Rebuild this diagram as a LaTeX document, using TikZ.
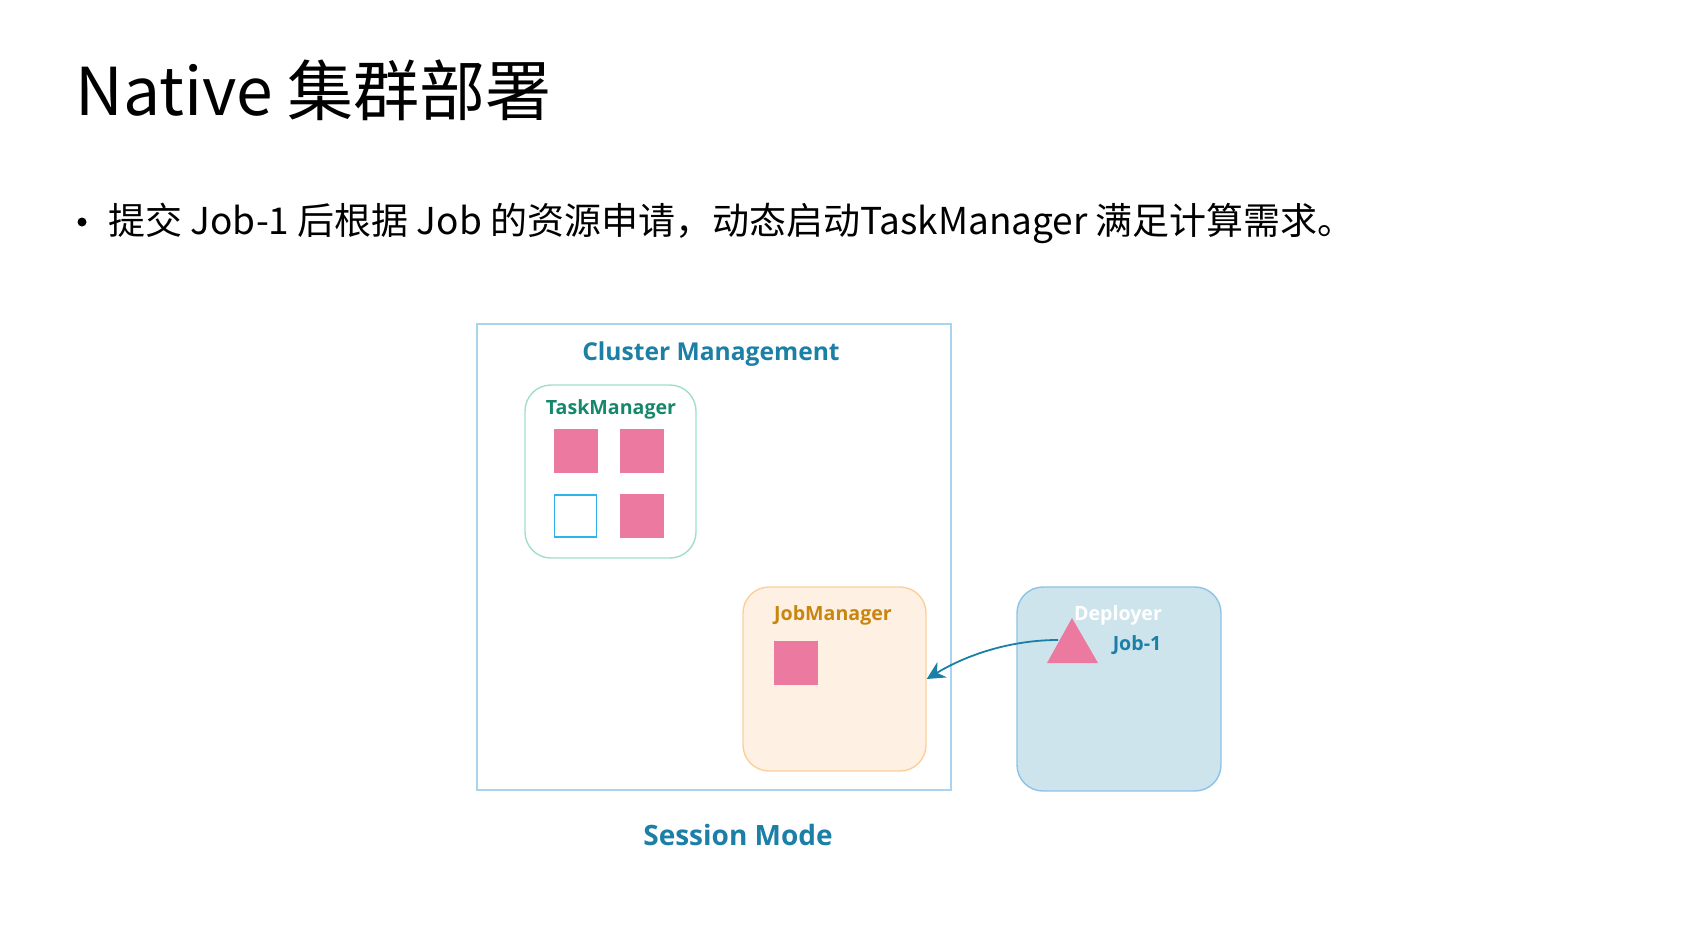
\documentclass[tikz,border=0pt]{standalone}
\usepackage{fontspec}
\usepackage{tikz}
\setmainfont{Noto Sans CJK SC}
\newfontfamily\labelfont{Open Sans}
\usetikzlibrary{arrows.meta}

\definecolor{clusterline}{HTML}{A9D4EE}
\definecolor{tealtext}{HTML}{1B7FA6}
\definecolor{tmline}{HTML}{9FDFC9}
\definecolor{tmtext}{HTML}{17876B}
\definecolor{slotpink}{HTML}{EC7AA0}
\definecolor{slotfree}{HTML}{2FB4E9}
\definecolor{jmfill}{HTML}{FFF0E4}
\definecolor{jmline}{HTML}{FCCF9A}
\definecolor{jmtext}{HTML}{C8860F}
\definecolor{depfill}{HTML}{CDE4EC}
\definecolor{depline}{HTML}{8CC3E6}

\tikzset{
  boxlabel/.style={font=\labelfont\bfseries\fontsize{9.8}{12}\selectfont, inner sep=0pt},
  slot/.style={fill=slotpink, minimum width=22pt, minimum height=22pt, inner sep=0pt},
  freeslot/.style={draw=slotfree, line width=0.7pt, fill=white, minimum width=21pt, minimum height=21pt, inner sep=0pt},
  roundbox/.style={rounded corners=13pt, line width=0.7pt, inner sep=0pt}
}

\begin{document}
\begin{tikzpicture}[x=0.5pt,y=0.5pt,yscale=-1,xscale=1]
        \useasboundingbox (0,0) rectangle (1692,932);

        % heading and bullet
        \node (title) at (75,115) [anchor=base west, inner sep=0pt, font=\fontsize{33}{38}\selectfont] {Native 集群部署};
        \node (dot) at (82,222) [circle, fill=black, inner sep=0pt, minimum size=4.5pt] {};
        \node (bullet) at (108,234) [anchor=base west, inner sep=0pt, font=\fontsize{18.5}{21}\selectfont] {提交 Job-1 后根据 Job 的资源申请，动态启动TaskManager 满足计算需求。};

        % cluster
        \node (cluster) at (714,557) [draw=clusterline, line width=0.7pt, minimum width=237pt, minimum height=233pt, inner sep=0pt] {};
        \node (clustertitle) at (711,354) [boxlabel, font=\labelfont\bfseries\fontsize{12.3}{15}\selectfont, text=tealtext] {Cluster Management};

        % task manager
        \node (tm) at (610.5,471.5) [roundbox, draw=tmline, minimum width=85.5pt, minimum height=86.5pt] {};
        \node (tmtitle) at (611,409) [boxlabel, text=tmtext] {TaskManager};
        \node (s1) at (575.5,451) [slot] {};
        \node (s2) at (641.5,451) [slot] {};
        \node (s3) at (575.5,516) [freeslot] {};
        \node (s4) at (641.5,516) [slot] {};

        % job manager
        \node (jm) at (834.5,679) [roundbox, draw=jmline, fill=jmfill, minimum width=91.5pt, minimum height=92pt] {};
        \node (jmtitle) at (833,615) [boxlabel, text=jmtext] {JobManager};
        \node (js) at (796,663) [slot] {};

        % deployer
        \node (dep) at (1119,689) [roundbox, draw=depline, fill=depfill, minimum width=102pt, minimum height=102pt] {};
        \node (deptitle) at (1118,615) [boxlabel, text=white] {Deployer};
        \fill [slotpink] (1047,663) -- (1072,618) -- (1098,663) -- cycle;
        \coordinate (job) at (1058,640);
        \node (jobname) at (1137,645) [boxlabel, text=tealtext] {Job-1};

        \draw [tealtext, line width=0.9pt, -{Stealth[length=9pt,width=9pt,inset=3pt]}] (job) .. controls (1012,640) and (968,654) .. (jm.east);

        \node (mode) at (738,835) [boxlabel, font=\labelfont\bfseries\fontsize{14}{16}\selectfont, text=tealtext] {Session Mode};
\end{tikzpicture}
\end{document}
